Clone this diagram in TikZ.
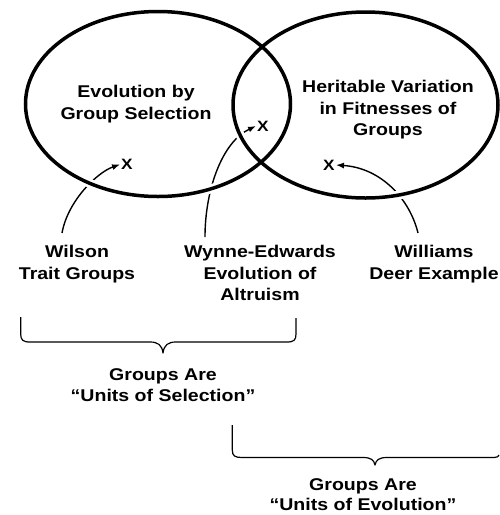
\documentclass[tikz,border=0pt]{standalone}
\usepackage{fontspec}
\setmainfont{Liberation Sans}[FakeStretch=1.15]
\usepackage{tikz}
\usetikzlibrary{arrows.meta}

\tikzset{
  lbl/.style={font=\fontsize{17}{21.5}\selectfont\bfseries, align=center, inner sep=0pt, anchor=north},
  xmark/.style={font=\fontsize{15}{15}\selectfont\bfseries, inner sep=1pt},
  ring/.style={line width=3.5pt},
  halo/.style={white, line width=9pt},
  pointer/.style={-{Latex[length=8pt,width=6pt]}, line width=1.4pt},
  brace/.style={line width=1.2pt, line join=round}
}

\begin{document}
\begin{tikzpicture}[x=1pt,y=-1pt]
		\useasboundingbox (0,0) rectangle (499,515);

		% Texts in the circles
		\node[lbl] (evotext) at (136,85) {Evolution by\\Group Selection};
		\node[lbl] (hertext) at (388,80) {Heritable Variation\\in Fitnesses of\\Groups};

		% Cases
		\node[lbl] (wilson) at (77,245) {Wilson\\Trait Groups};
		\node[lbl] (wynne) at (260,245) {Wynne-Edwards\\Evolution of\\Altruism};
		\node[lbl] (williams) at (434,245) {Williams\\Deer Example};

		% X marks
		\node[xmark] (xsel) at (127,164.5) {X};
		\node[xmark] (xmid) at (263,126) {X};
		\node[xmark] (xvar) at (329,165) {X};

		% Arrows from cases to marks
		\draw[pointer] ([xshift=-15pt,yshift=12pt]wilson.north) .. controls (68,200) and (98,172) .. (xsel.west);
		\draw[pointer] ([xshift=-55pt,yshift=8pt]wynne.north) .. controls (205,190) and (222,142) .. (xmid.west);
		\draw[pointer] ([xshift=-16pt,yshift=12pt]williams.north) .. controls (410,200) and (382,168) .. (xvar.east);

		% Circles
		\draw[halo] (158,104) ellipse [x radius=132.5, y radius=92.5];
		\draw[halo] (365.5,105) ellipse [x radius=132.5, y radius=93];
		\draw[ring] (158,104) ellipse [x radius=132.5, y radius=92.5];
		\draw[ring] (365.5,105) ellipse [x radius=132.5, y radius=93];

		% Braces
		\draw[brace] (20.7,317) -- (20.7,334) .. controls (20.7,340) and (23,342) .. (30,342) -- (150,342)
			.. controls (158,342) and (162,345) .. (163,353) .. controls (164,345) and (168,342) .. (176,342)
			-- (287,342) .. controls (294,342) and (296,340) .. (296,334) -- (296,318);
		\draw[brace] (232.3,425) -- (232.3,450) .. controls (232.3,456) and (235,457.5) .. (242,457.5) -- (363,457.5)
			.. controls (371,457.5) and (374,460) .. (375,465) .. controls (376,460) and (379,457.5) .. (387,457.5)
			-- (494,457.5) .. controls (497,457.5) and (499,456.5) .. (499,455);

		\node[lbl] (selgroups) at (163,368) {Groups Are\\``Units of Selection''};
		\node[lbl, font=\fontsize{17}{20.5}\selectfont\bfseries] (evogroups) at (363,478) {Groups Are\\``Units of Evolution''};
	\end{tikzpicture}
\end{document}
